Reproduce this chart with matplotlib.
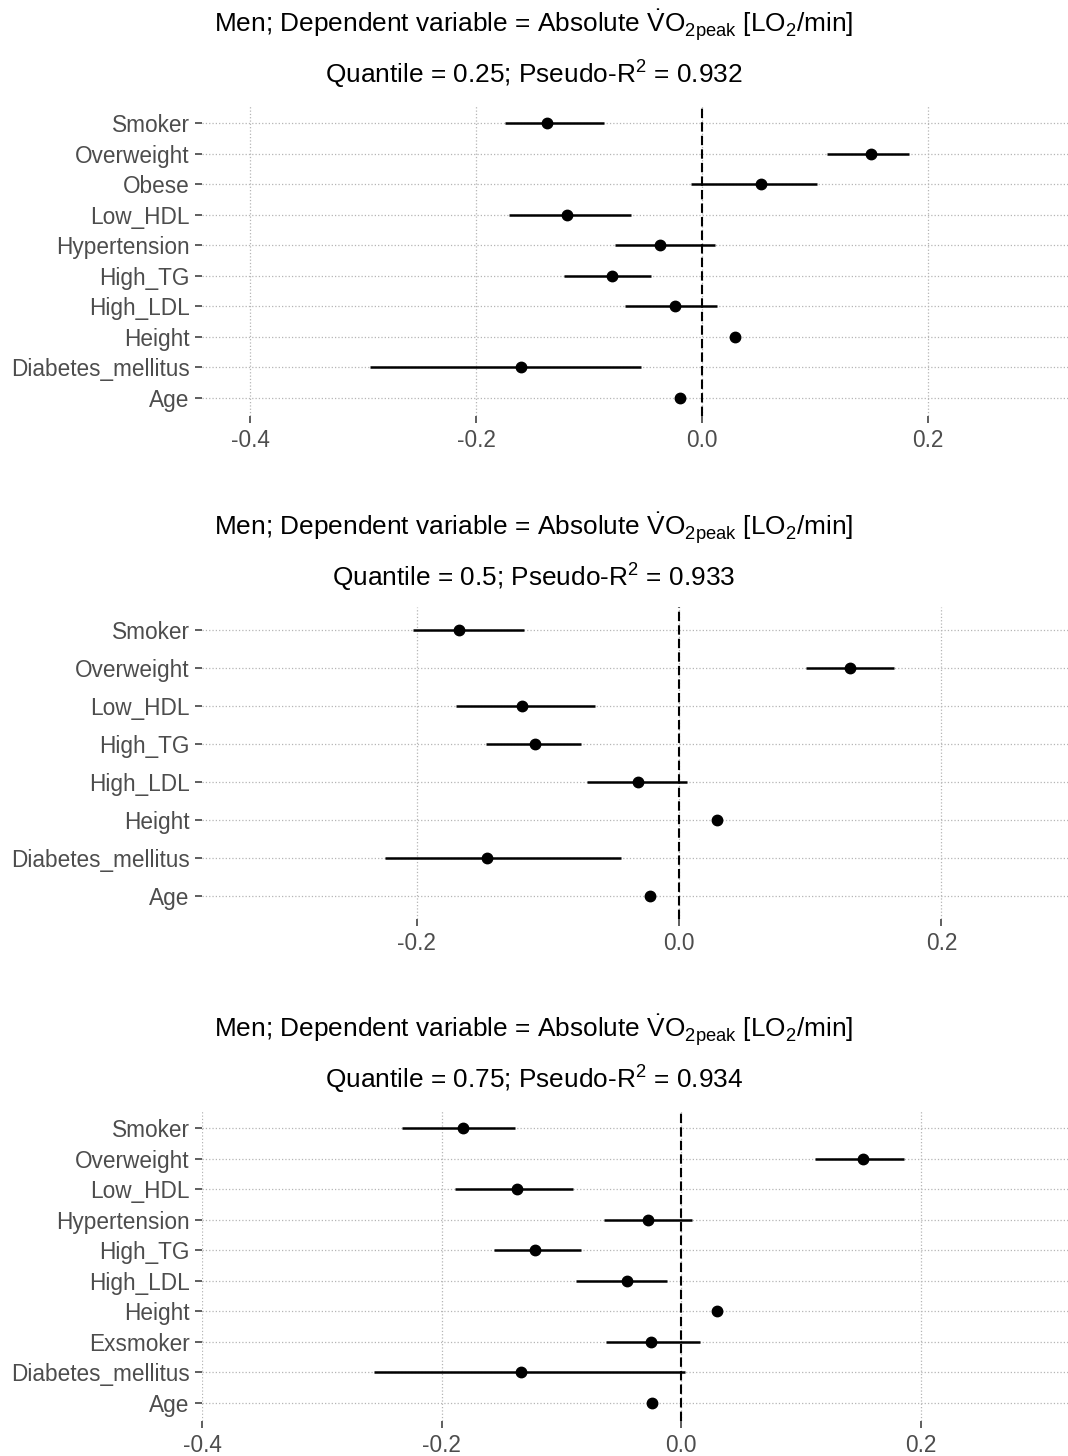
import matplotlib.pyplot as plt
import numpy as np

plt.rcParams['font.family'] = ['Liberation Sans', 'DejaVu Sans']
plt.rcParams['mathtext.fontset'] = 'custom'
plt.rcParams['mathtext.rm'] = 'Liberation Sans'
plt.rcParams['mathtext.it'] = 'Liberation Sans:italic'

# panel 1: quantile 0.25 (bottom to top)
vars_25 = ['Age', 'Diabetes_mellitus', 'Height', 'High_LDL', 'High_TG',
           'Hypertension', 'Low_HDL', 'Obese', 'Overweight', 'Smoker']
est_25 = [-0.019, -0.160, 0.029, -0.024, -0.080, -0.037, -0.119, 0.052, 0.150, -0.137]
lo_25 = [-0.021, -0.294, 0.027, -0.068, -0.122, -0.077, -0.171, -0.010, 0.111, -0.174]
hi_25 = [-0.017, -0.054, 0.031, 0.013, -0.045, 0.012, -0.063, 0.102, 0.183, -0.087]

# panel 2: quantile 0.5
vars_50 = ['Age', 'Diabetes_mellitus', 'Height', 'High_LDL', 'High_TG',
           'Low_HDL', 'Overweight', 'Smoker']
est_50 = [-0.022, -0.146, 0.029, -0.031, -0.110, -0.120, 0.130, -0.168]
lo_50 = [-0.024, -0.224, 0.027, -0.070, -0.147, -0.170, 0.097, -0.203]
hi_50 = [-0.020, -0.044, 0.031, 0.006, -0.075, -0.064, 0.164, -0.118]

# panel 3: quantile 0.75
vars_75 = ['Age', 'Diabetes_mellitus', 'Exsmoker', 'Height', 'High_LDL', 'High_TG',
           'Hypertension', 'Low_HDL', 'Overweight', 'Smoker']
est_75 = [-0.024, -0.134, -0.025, 0.030, -0.045, -0.122, -0.028, -0.137, 0.152, -0.182]
lo_75 = [-0.026, -0.256, -0.063, 0.028, -0.088, -0.156, -0.064, -0.189, 0.112, -0.233]
hi_75 = [-0.022, 0.003, 0.016, 0.032, -0.012, -0.084, 0.009, -0.090, 0.186, -0.139]

quantiles = ['0.25', '0.5', '0.75']
pseudo_r2 = ['0.932', '0.933', '0.934']
xlims = [(-0.4425, 0.324), (-0.3636, 0.2965), (-0.4, 0.323)]
xticks = [[-0.4, -0.2, 0.0, 0.2], [-0.2, 0.0, 0.2], [-0.4, -0.2, 0.0, 0.2]]

panels = [(vars_25, est_25, lo_25, hi_25),
          (vars_50, est_50, lo_50, hi_50),
          (vars_75, est_75, lo_75, hi_75)]

W, H = 1068, 1456
fig = plt.figure(figsize=(W / 100, H / 100), dpi=100)

# axes boxes in pixels: (top, bottom)
boxes = [(104.7, 416.3), (607, 919), (1109.7, 1421.3)]
title_y = [25, 528, 1030]

for i, (names, est, lo, hi) in enumerate(panels):
    top, bot = boxes[i]
    ax = fig.add_axes([202 / W, 1 - bot / H, 866 / W, (bot - top) / H])
    y = np.arange(1, len(names) + 1)
    ax.hlines(y, lo, hi, color='black', lw=1.8, zorder=3)
    ax.plot(est, y, 'o', color='black', ms=7.5, zorder=4)
    ax.axvline(0, color='black', lw=1.5, ls=(0, (4.5, 2)), zorder=2)
    ax.set_ylim(0.4, len(names) + 0.6)
    ax.set_xlim(*xlims[i])
    ax.set_yticks(y)
    ax.set_yticklabels(names)
    ax.set_xticks(xticks[i])
    ax.set_xticklabels(['%.1f' % t for t in xticks[i]])
    ax.grid(True, color='#b5b5b5', ls=':', lw=0.9)
    ax.set_axisbelow(True)
    for s in ax.spines.values():
        s.set_visible(False)
    ax.tick_params(axis='both', labelsize=16.3, labelcolor='#4d4d4d',
                   color='#333333', length=5, width=1.1, pad=4)

    fig.text(0.5, 1 - title_y[i] / H,
             r'Men; Dependent variable = Absolute $\dot{\mathrm{V}}\mathrm{O}_{2\mathrm{peak}}$ [LO$_2$/min]',
             ha='center', va='center', fontsize=18.9)
    fig.text(0.5, 1 - (title_y[i] + 50) / H,
             'Quantile = %s; Pseudo-R$^2$ = %s' % (quantiles[i], pseudo_r2[i]),
             ha='center', va='center', fontsize=18.9)

fig.savefig('out.png', dpi=100)
